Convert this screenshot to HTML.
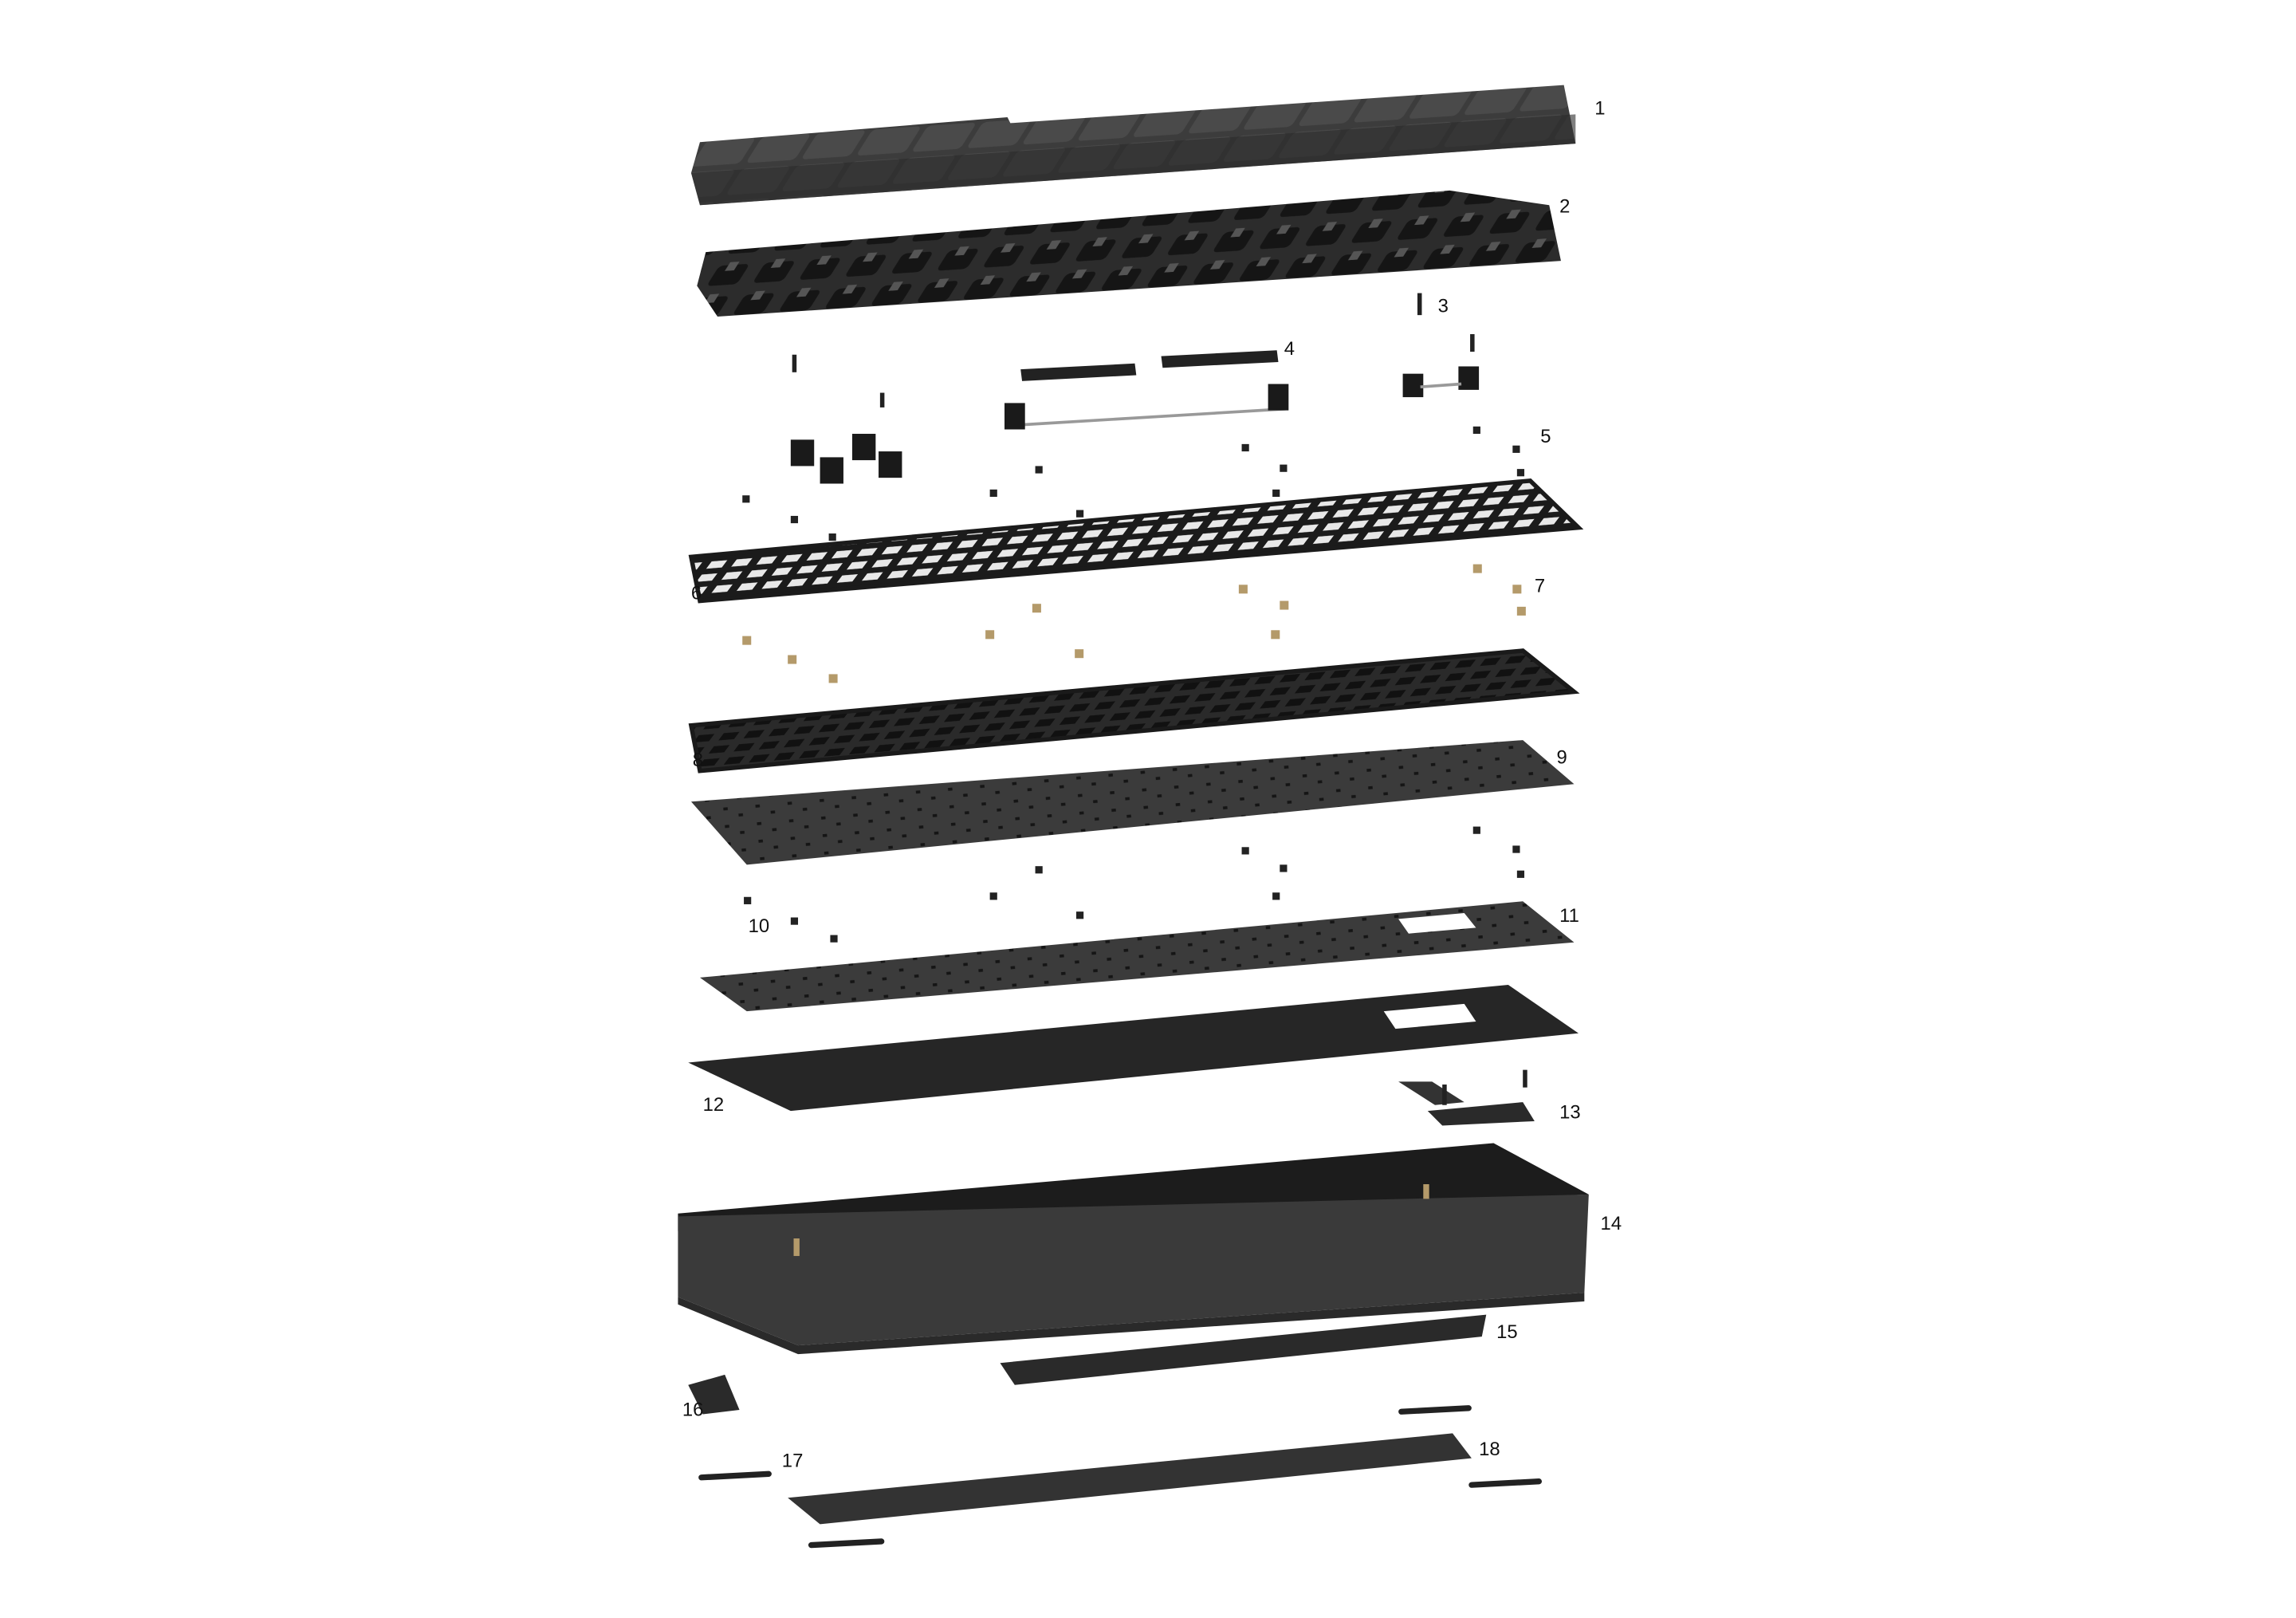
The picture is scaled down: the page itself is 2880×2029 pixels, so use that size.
<!DOCTYPE html>
<html><head><meta charset="utf-8"><style>
html,body{margin:0;padding:0;background:#fff}
svg{display:block}
text{font-family:"Liberation Sans",sans-serif;font-size:13px;fill:#111}
</style></head><body>
<svg width="2880" height="2029" viewBox="0 0 1568 1104" preserveAspectRatio="none" xmlns="http://www.w3.org/2000/svg">
<defs>
<pattern id="grid" width="16" height="9" patternUnits="userSpaceOnUse" patternTransform="skewX(-40) rotate(-5)">
<rect width="16" height="9" fill="#1b1b1b"/><rect x="3" y="2" width="10" height="5" fill="#e8e8e8"/></pattern>
<pattern id="pcb" width="16" height="9" patternUnits="userSpaceOnUse" patternTransform="skewX(-40) rotate(-5)">
<rect width="16" height="9" fill="#2a2a2a"/><rect x="3" y="2" width="10" height="5" fill="#111"/></pattern>
<pattern id="dots" width="22" height="12" patternUnits="userSpaceOnUse" patternTransform="rotate(-5)">
<rect width="22" height="12" fill="#3b3b3b"/><rect x="4" y="4" width="3" height="2" fill="#151515"/><rect x="14" y="9" width="3" height="2" fill="#151515"/></pattern>
<pattern id="keys" width="36" height="22" patternUnits="userSpaceOnUse" patternTransform="skewX(-35) rotate(-4)">
<rect width="36" height="22" fill="#3c3c3c"/><rect x="2" y="2" width="32" height="18" rx="3" fill="#4a4a4a"/></pattern>
<pattern id="sw" width="30" height="22" patternUnits="userSpaceOnUse" patternTransform="skewX(-35) rotate(-4)">
<rect width="30" height="22" fill="#2c2c2c"/><rect x="4" y="4" width="20" height="14" rx="3" fill="#151515"/><rect x="10" y="2" width="6" height="6" fill="#555"/></pattern>
</defs>

<polygon points="478,97 688,80 690,84 1068,58 1076,98 478,140 472,118" fill="url(#keys)"/>
<polygon points="472,118 1076,78 1076,98 478,140" fill="#2a2a2a" opacity="0.6"/>
<polygon points="482,172 990,130 1058,140 1066,178 490,216 476,195" fill="url(#sw)"/>
<rect x="968" y="200" width="3" height="15" fill="#222"/>
<polygon points="697,252 775,248 776,256 698,260" fill="#222"/>
<polygon points="793,243 872,239 873,247 794,251" fill="#222"/>
<line x1="695" y1="290" x2="878" y2="279" stroke="#999" stroke-width="2"/>
<rect x="686" y="275" width="14" height="18" fill="#1a1a1a"/><rect x="866" y="262" width="14" height="18" fill="#1a1a1a"/>
<rect x="958" y="255" width="14" height="16" fill="#1a1a1a"/><rect x="996" y="250" width="14" height="16" fill="#1a1a1a"/>
<line x1="970" y1="264" x2="998" y2="262" stroke="#999" stroke-width="2"/>
<rect x="540" y="300" width="16" height="18" fill="#1a1a1a"/><rect x="582" y="296" width="16" height="18" fill="#1a1a1a"/>
<rect x="560" y="312" width="16" height="18" fill="#1a1a1a"/><rect x="600" y="308" width="16" height="18" fill="#1a1a1a"/>
<g fill="#222">
<rect x="541" y="242" width="3" height="12"/><rect x="601" y="268" width="3" height="10"/><rect x="1004" y="228" width="3" height="12"/>
<rect x="507" y="338" width="5" height="5"/><rect x="540" y="352" width="5" height="5"/><rect x="566" y="364" width="5" height="5"/>
<rect x="676" y="334" width="5" height="5"/><rect x="707" y="318" width="5" height="5"/><rect x="735" y="348" width="5" height="5"/>
<rect x="848" y="303" width="5" height="5"/><rect x="874" y="317" width="5" height="5"/><rect x="869" y="334" width="5" height="5"/>
<rect x="1006" y="291" width="5" height="5"/><rect x="1033" y="304" width="5" height="5"/><rect x="1036" y="320" width="5" height="5"/>
</g>
<polygon points="472,380 1045,328 1078,360 478,410" fill="url(#grid)" stroke="#1b1b1b" stroke-width="3"/>
<g fill="#b49a6a">
<rect x="1006" y="385" width="6" height="6"/><rect x="1033" y="399" width="6" height="6"/><rect x="1036" y="414" width="6" height="6"/>
<rect x="846" y="399" width="6" height="6"/><rect x="874" y="410" width="6" height="6"/><rect x="868" y="430" width="6" height="6"/>
<rect x="705" y="412" width="6" height="6"/><rect x="673" y="430" width="6" height="6"/><rect x="734" y="443" width="6" height="6"/>
<rect x="507" y="434" width="6" height="6"/><rect x="538" y="447" width="6" height="6"/><rect x="566" y="460" width="6" height="6"/>
</g>
<polygon points="472,495 1040,444 1075,472 478,526" fill="url(#pcb)" stroke="#1a1a1a" stroke-width="3"/>
<polygon points="472,547 1040,505 1075,535 510,590" fill="url(#dots)"/>
<g fill="#222">
<rect x="1006" y="564" width="5" height="5"/><rect x="1033" y="577" width="5" height="5"/><rect x="1036" y="594" width="5" height="5"/>
<rect x="848" y="578" width="5" height="5"/><rect x="874" y="590" width="5" height="5"/><rect x="869" y="609" width="5" height="5"/>
<rect x="707" y="591" width="5" height="5"/><rect x="676" y="609" width="5" height="5"/><rect x="735" y="622" width="5" height="5"/>
<rect x="508" y="612" width="5" height="5"/><rect x="540" y="626" width="5" height="5"/><rect x="567" y="638" width="5" height="5"/>
</g>
<polygon points="478,667 1040,615 1075,643 510,690" fill="url(#dots)"/>
<polygon points="955,627 1000,623 1008,633 962,637" fill="#fff"/>
<polygon points="470,725 1030,672 1078,705 540,758" fill="#262626"/>
<polygon points="945,690 1000,685 1008,697 953,702" fill="#fff"/>
<polygon points="955,738 978,738 1000,752 980,754" fill="#333"/>
<polygon points="975,758 1040,752 1048,765 985,768" fill="#2a2a2a"/>
<rect x="985" y="740" width="3" height="14" fill="#222"/><rect x="1040" y="730" width="3" height="12" fill="#222"/>
<polygon points="463,828 1020,780 1085,815 463,840" fill="#1c1c1c"/>
<polygon points="463,830 1085,815 1082,882 545,918 463,885" fill="#3a3a3a"/>
<polygon points="463,885 545,918 1082,882 1082,888 545,924 463,890" fill="#2a2a2a"/>
<rect x="542" y="845" width="4" height="12" fill="#b49a6a"/><rect x="972" y="808" width="4" height="10" fill="#b49a6a"/>
<polygon points="683,930 1015,897 1012,912 693,945" fill="#2a2a2a"/>
<polygon points="470,945 495,938 505,962 480,965" fill="#2a2a2a"/>
<g fill="#222">
<rect x="955" y="960" width="50" height="4" rx="2" transform="rotate(-3 980 962)"/>
<rect x="477" y="1005" width="50" height="4" rx="2" transform="rotate(-3 500 1007)"/>
<rect x="1003" y="1010" width="50" height="4" rx="2" transform="rotate(-3 1028 1012)"/>
<rect x="552" y="1051" width="52" height="4" rx="2" transform="rotate(-3 578 1053)"/>
</g>
<polygon points="538,1022 992,978 1005,995 560,1040" fill="#333"/>

<g>
<text x="1089" y="78">1</text><text x="1065" y="145">2</text><text x="982" y="213">3</text>
<text x="877" y="242">4</text><text x="1052" y="302">5</text><text x="472" y="409">6</text>
<text x="1048" y="404">7</text><text x="473" y="523">8</text><text x="1063" y="521">9</text>
<text x="511" y="636">10</text><text x="1065" y="629">11</text><text x="480" y="758">12</text>
<text x="1065" y="763">13</text><text x="1093" y="839">14</text><text x="1022" y="913">15</text>
<text x="466" y="966">16</text><text x="534" y="1001">17</text><text x="1010" y="993">18</text>
</g>
</svg>
</body></html>
